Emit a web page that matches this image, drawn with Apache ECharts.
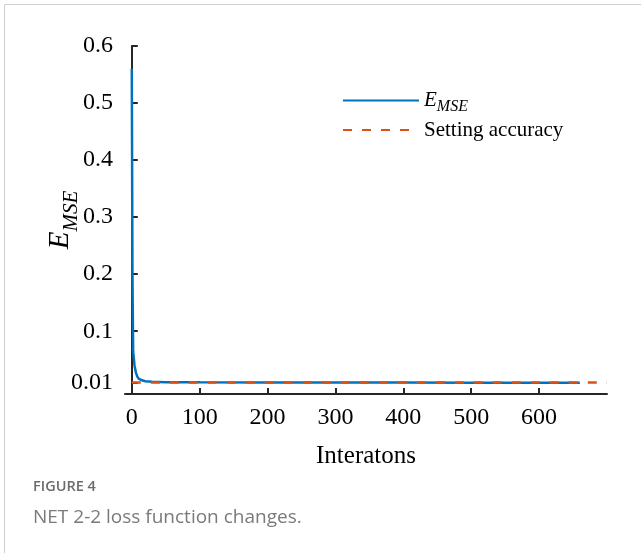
<!DOCTYPE html>
<html>
<head>
<meta charset="utf-8">
<title>NET 2-2 loss function changes</title>
<script src="https://cdn.jsdelivr.net/npm/echarts@6/dist/echarts.min.js"></script>
<style>
  html, body { margin: 0; padding: 0; background: #fff; }
  #main { width: 641px; height: 553px; }
</style>
</head>
<body>
<div id="main"></div>
<script type="text/javascript">
// 读图估计的数据
var iters = [0, 1, 2, 4, 6, 8, 10, 15, 20, 30, 50, 100, 200, 300, 400, 500, 600, 660];
var mse = [0.56, 0.2, 0.065, 0.04, 0.028, 0.021, 0.017, 0.014, 0.0125, 0.0115, 0.0108, 0.0104, 0.0102, 0.0101, 0.01, 0.0099, 0.0099, 0.0098];
var goalX = [0, 700];
var goalY = [0.01, 0.01];
var xTicks = [0, 100, 200, 300, 400, 500, 600];
var yTicks = [0.01, 0.1, 0.2, 0.3, 0.4, 0.5, 0.6];

var serif = '"Liberation Serif", "Times New Roman", serif';
var axisColor = '#262626';

var myChart = echarts.init(document.getElementById('main'));

var option = {
    animation: false,
    grid: { left: 125, right: 34, top: 46, bottom: 159 },
    legend: {
        orient: 'vertical',
        left: 337,
        top: 85,
        itemWidth: 76,
        itemHeight: 14,
        itemGap: 5,
        data: ['mse', 'goal'],
        itemStyle: { opacity: 0 },
        formatter: function (name) {
            return name === 'mse' ? '{e|E}{s|MSE}' : 'Setting accuracy';
        },
        textStyle: {
            fontFamily: serif, fontSize: 21, color: '#000',
            rich: {
                e: { fontFamily: serif, fontStyle: 'italic', fontSize: 21, color: '#000' },
                s: { fontFamily: serif, fontStyle: 'italic', fontSize: 16, color: '#000', padding: [12, 0, 0, 0] }
            }
        }
    },
    xAxis: {
        type: 'value',
        min: -10,
        max: 700,
        name: 'Interatons',
        nameLocation: 'middle',
        nameGap: 50,
        nameMoveOverlap: false,
        nameTextStyle: { fontFamily: serif, fontSize: 25, color: '#000' },
        axisLine: { onZero: false, lineStyle: { color: axisColor, width: 2 } },
        axisTick: { inside: true, length: 6, customValues: xTicks, lineStyle: { color: axisColor, width: 2 } },
        axisLabel: { customValues: xTicks, margin: 12, fontFamily: serif, fontSize: 24, color: '#000' },
        splitLine: { show: false }
    },
    yAxis: {
        type: 'value',
        min: -0.01,
        max: 0.6,
        name: '{e|E}{s|MSE}',
        nameLocation: 'middle',
        nameGap: 43,
        nameMoveOverlap: false,
        nameRotate: 90,
        nameTextStyle: {
            rich: {
                e: { fontFamily: serif, fontStyle: 'italic', fontSize: 29, color: '#000' },
                s: { fontFamily: serif, fontStyle: 'italic', fontSize: 21, color: '#000', padding: [22, 0, 0, 0] }
            }
        },
        axisLine: { show: true, lineStyle: { color: axisColor, width: 2 } },
        axisTick: { show: true, inside: true, length: 6, customValues: yTicks, lineStyle: { color: axisColor, width: 2 } },
        axisLabel: {
            customValues: yTicks, margin: 12, fontFamily: serif, fontSize: 24, color: '#000',
            formatter: function (v) { return Math.abs(v - 0.01) < 1e-9 ? '0.01' : v.toFixed(1); }
        },
        splitLine: { show: false }
    },
    series: [
        {
            name: 'goal',
            type: 'line',
            data: goalX.map(function (x, i) { return [x, goalY[i]]; }),
            symbol: 'none',
            lineStyle: { color: '#D95319', width: 2.5, type: [9, 10] },
            itemStyle: { color: '#D95319' },
            z: 3
        },
        {
            name: 'mse',
            type: 'line',
            data: iters.map(function (x, i) { return [x, mse[i]]; }),
            symbol: 'none',
            lineStyle: { color: '#0072BD', width: 2.5 },
            itemStyle: { color: '#0072BD' },
            z: 2
        }
    ],
    graphic: [
        {
            type: 'polyline',
            shape: { points: [[4.5, 553], [4.5, 4.5], [641, 4.5]] },
            style: { stroke: '#cfcfcf', lineWidth: 1, fill: null },
            silent: true
        },
        {
            type: 'text', left: 33, top: 479,
            style: { text: 'FIGURE 4', font: '600 14.5px "Open Sans", sans-serif', fill: '#6b6b6b' }
        },
        {
            type: 'text', left: 33, top: 508,
            style: { text: 'NET 2-2 loss function changes.', font: '19px "Open Sans", sans-serif', fill: '#7a7a7a' }
        }
    ]
};

myChart.setOption(option);
</script>
</body>
</html>
